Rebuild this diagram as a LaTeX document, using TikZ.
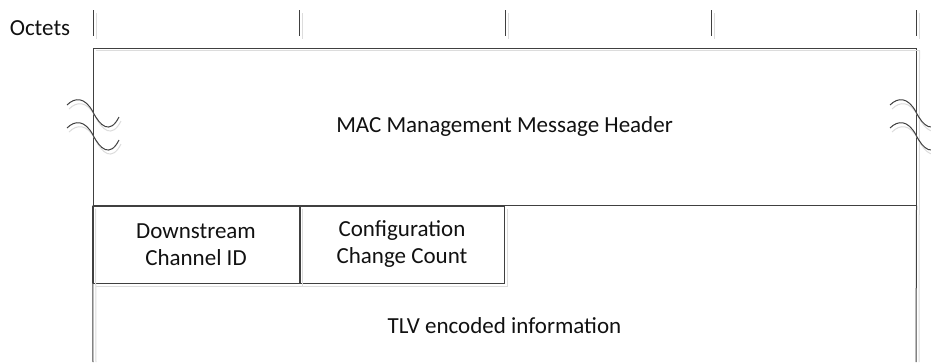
\documentclass[tikz,border=0pt]{standalone}
\usepackage{fontspec}
\setmainfont{Carlito}
\usetikzlibrary{positioning, calc}
\definecolor{colorline}{HTML}{404040}
\definecolor{colorghost}{HTML}{DCDCDC}
\definecolor{colortext}{HTML}{111111}

\begin{document}
\begin{tikzpicture}[
    % one unit = one pixel of the layout, y grows downwards
    x=1pt, y=-1pt,
    field/.style={
        rectangle,
        draw=colorline,
        line width=1pt,
        inner sep=0pt,
        align=center,
        text=colortext,
        font=\fontsize{23}{27}\selectfont
    },
    label/.style={
        inner sep=0pt,
        text=colortext,
        font=\fontsize{23}{27}\selectfont
    },
    rule/.style={
        colorline,
        line width=1pt
    },
    ghost/.style={
        colorghost,
        line width=1pt
    }
]
\useasboundingbox (0,0) rectangle (931,362);

% ==============================
% Octet scale
% ==============================
\node[label] (octets) at (40,28) {Octets};

\foreach \x [count=\i] in {93,299,505,711,916} {
    \coordinate (tick\i) at (\x,10);
    \draw[ghost] ([shift={(3,3)}]tick\i) -- ++(0,26);
    \draw[rule] (tick\i) -- ++(0,26);
}

% ==============================
% Header
% ==============================
\node[field, minimum width=823pt, minimum height=157pt] (hdr) at (504.5,126.5)
    {MAC Management Message Header};

% ==============================
% Fixed fields
% ==============================
\node[field, minimum width=206pt, minimum height=77pt, anchor=north west] (dsid)
    at (hdr.south west) {Downstream\\Channel ID};

\node[field, minimum width=204pt, minimum height=77pt, anchor=north west] (ccc)
    at (dsid.north east) {Configuration\\Change Count};

% ==============================
% TLV part, open at the bottom
% ==============================
\coordinate (tlvleft) at (93,362);
\coordinate (tlvright) at (916,362);
\node[label] (tlv) at (504.5,326) {TLV encoded information};

\draw[ghost] ([shift={(3,3)}]hdr.north west) -- ([shift={(3,3)}]hdr.north east);
\draw[ghost] ([shift={(3,3)}]dsid.north west) -- ([shift={(3,0)}]tlvleft);
\draw[ghost] ([shift={(3,3)}]dsid.south west) -- ([shift={(3,3)}]ccc.south east)
    -- ([shift={(3,3)}]ccc.north east);
\draw[ghost] ([shift={(3,3)}]dsid.north east) -- ([shift={(3,3)}]dsid.south east);
\draw[ghost] ([shift={(3,3)}]hdr.north east) -- ([shift={(3,0)}]tlvright);

\draw[rule] (hdr.south west) -- (tlvleft);
\draw[rule] (hdr.south east) -- (tlvright);

% ==============================
% Break marks on both sides
% ==============================
\foreach \dx in {0,823} {
    \foreach \dy in {0,23} {
        \begin{scope}[shift={(\dx,\dy)}]
            \draw[ghost] (69,109) .. controls (77,101) and (87,101) .. (95,116)
                .. controls (102,130) and (112,139) .. (121,121);
            \draw[rule] (67,105) .. controls (75,97) and (85,97) .. (93,112)
                .. controls (100,126) and (110,135) .. (119,117);
        \end{scope}
    }
}

\end{tikzpicture}
\end{document}
